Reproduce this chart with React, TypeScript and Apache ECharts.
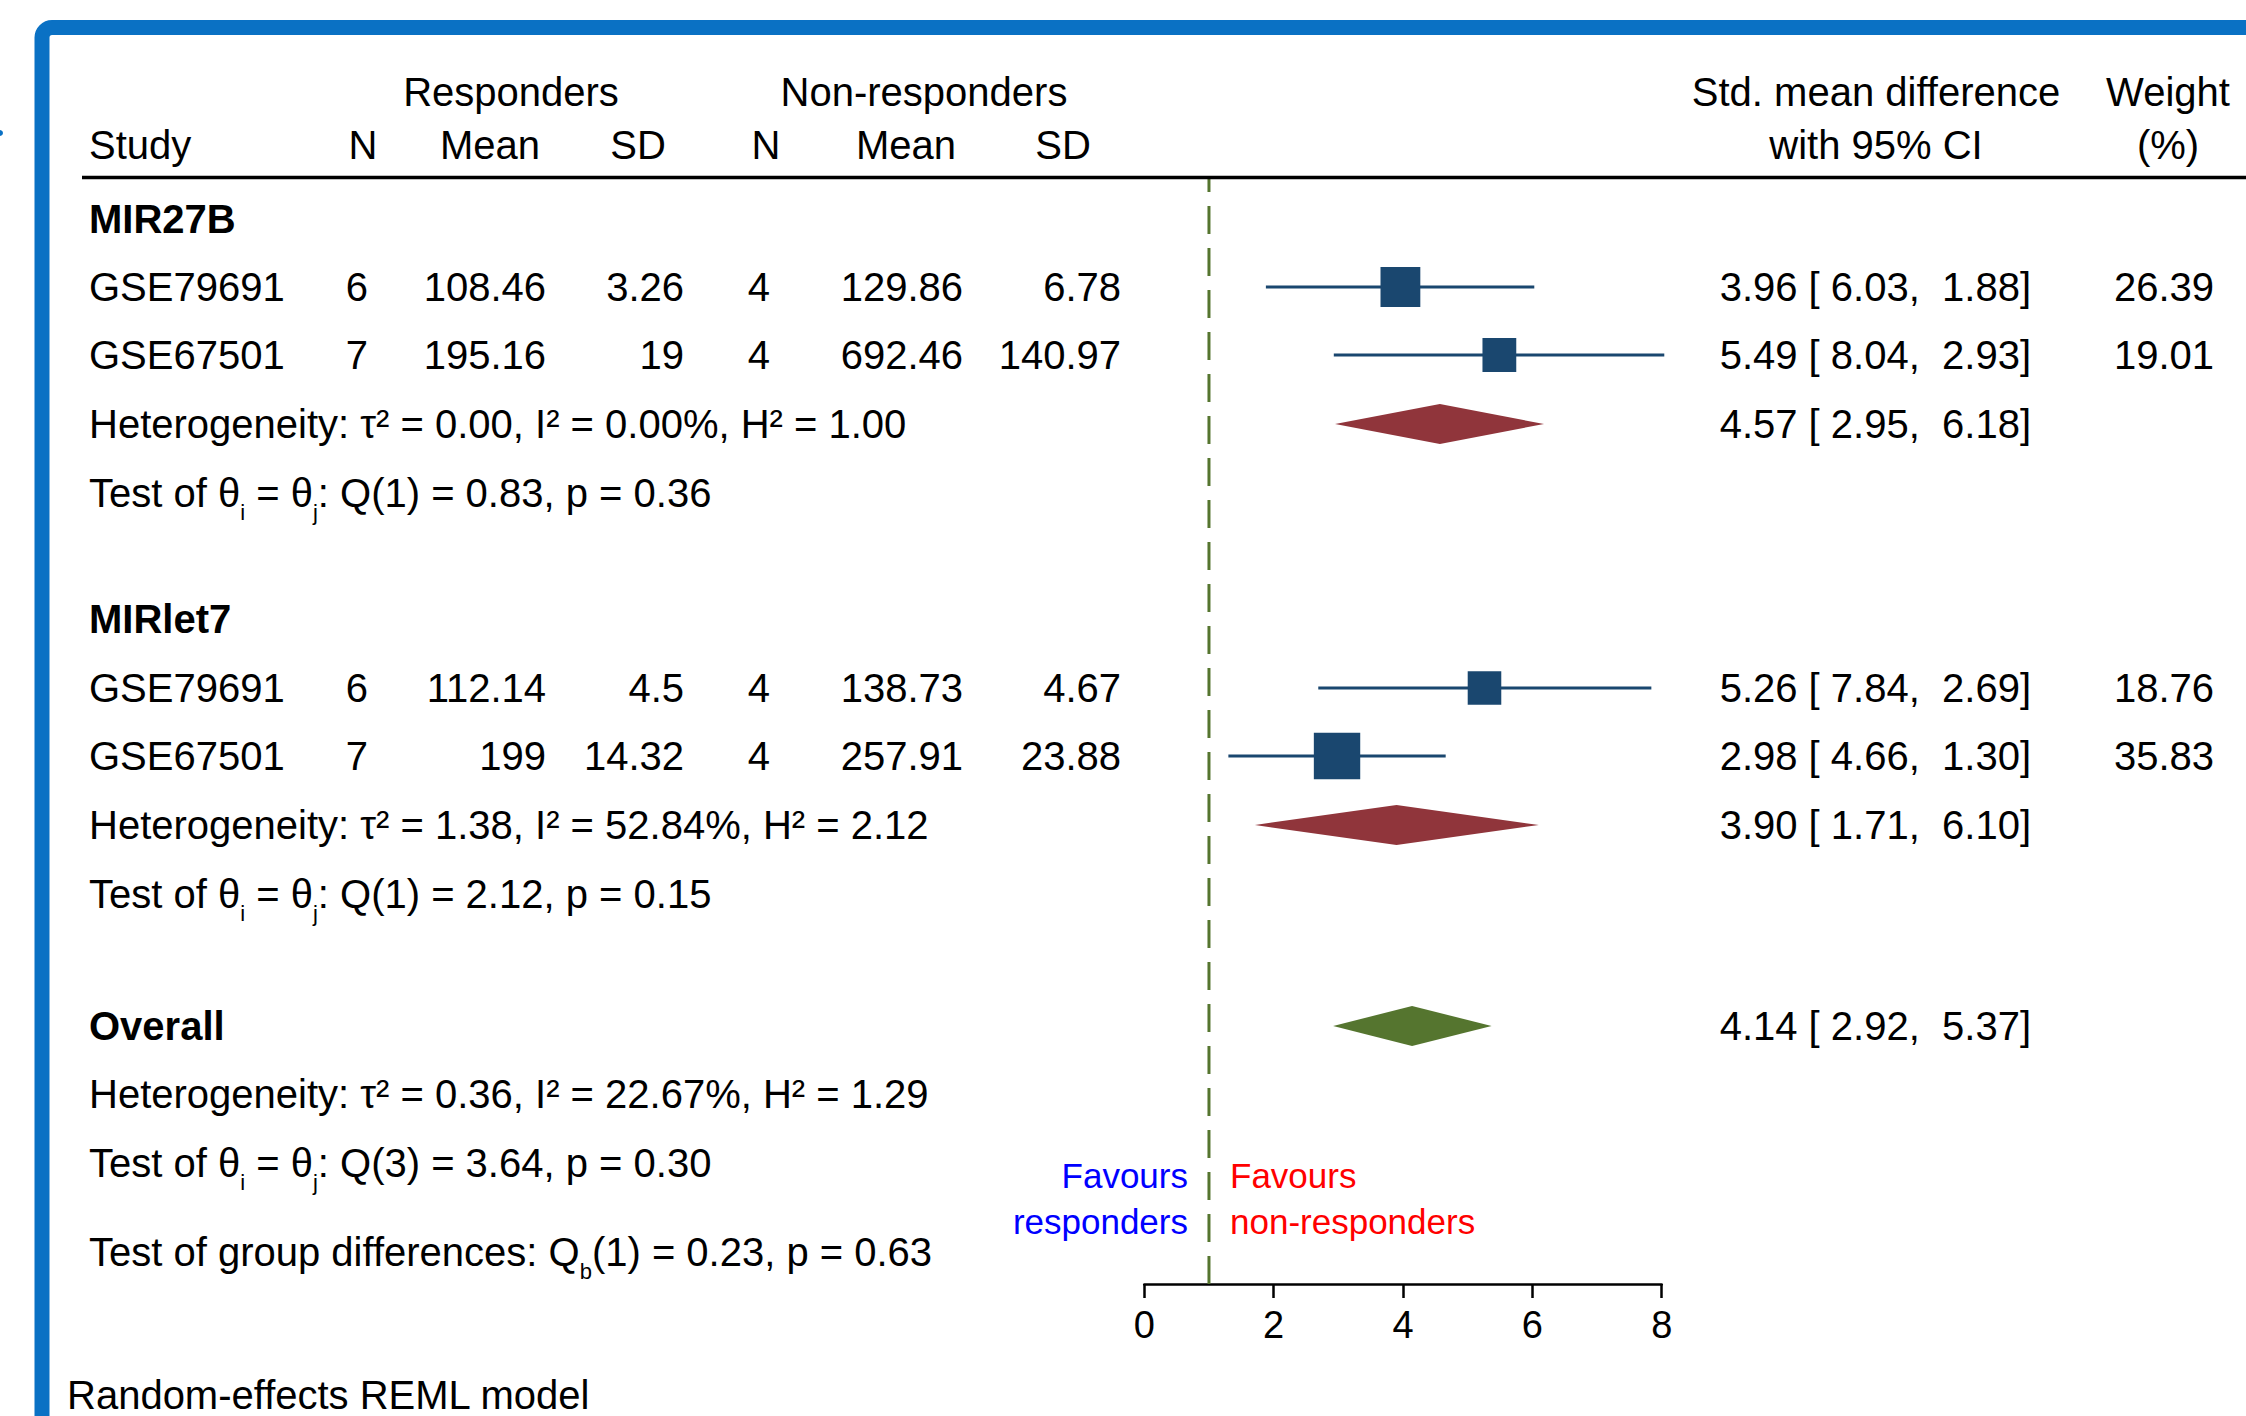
import React, { useEffect, useRef } from 'react';
import * as echarts from 'echarts';

// ---------------- data ----------------
const groupNames = ['MIR27B', 'MIRlet7'];
const overallName = 'Overall';
const studyNames = ['GSE79691', 'GSE67501', 'GSE79691', 'GSE67501'];
const respN = [6, 7, 6, 7];
const respMean = [108.46, 195.16, 112.14, 199];
const respSD = [3.26, 19, 4.5, 14.32];
const nonN = [4, 4, 4, 4];
const nonMean = [129.86, 692.46, 138.73, 257.91];
const nonSD = [6.78, 140.97, 4.67, 23.88];
const smd = [3.96, 5.49, 5.26, 2.98];
const ciLow = [1.88, 2.93, 2.69, 1.3];
const ciHigh = [6.03, 8.04, 7.84, 4.66];
const weights = [26.39, 19.01, 18.76, 35.83];

// subgroup summaries + overall
const sumEst = [4.57, 3.9, 4.14];
const sumLow = [2.95, 1.71, 2.92];
const sumHigh = [6.18, 6.1, 5.37];
const tau2 = [0.0, 1.38, 0.36];
const i2 = [0.0, 52.84, 22.67];
const h2 = [1.0, 2.12, 1.29];
const qDf = [1, 1, 3];
const qVal = [0.83, 2.12, 3.64];
const qP = [0.36, 0.15, 0.3];
const qbDf = 1;
const qbVal = 0.23;
const qbP = 0.63;

const xTicks = [0, 2, 4, 6, 8];
const refLine = 1;

// ---------------- layout ----------------
const FONT = '"Liberation Sans", Arial, Helvetica, sans-serif';
const FS = 40;
const NAVY = '#1A476F';
const MAROON = '#90353B';
const GREEN = '#55752F';

const Y_HEAD1 = 92;
const Y_HEAD2 = 145;
const Y_RULE = 177.5;
const STUDY_Y = [287, 355, 688, 756];
const TITLE_Y = [219, 619, 1026];
const SUMMARY_Y = [424, 825, 1026];
const HET_Y = [424, 825, 1094];
const TEST_Y = [493, 894, 1163];
const GDIFF_Y = 1252;
const REML_Y = 1395;

const GRID_LEFT = 1144.3;
const GRID_RIGHT_X = 1661.7;
const GRID_TOP = 179;
const GRID_BOTTOM_Y = 1284;

const X_STUDY = 89;
const X_COLS = [368, 546, 684, 770, 963, 1121];
const X_HEAD_COLS = [363, 490, 638, 766, 906, 1063];
const X_RESP = 511;
const X_NONRESP = 924;
const X_CI_HEAD = 1876;
const X_W_HEAD = 2168;
const X_CI = 2031;
const X_W = 2214;

const f2 = (v: number) => v.toFixed(2);
const NB = '\u00a0';

type TOpt = { size?: number; bold?: boolean; fill?: string; align?: string; rich?: any };
const T = (text: string, x: number, y: number, o: TOpt = {}) => ({
  type: 'text',
  x,
  y,
  z: 10,
  silent: true,
  style: {
    text,
    fill: o.fill || '#000',
    fontSize: o.size || FS,
    fontFamily: FONT,
    fontWeight: o.bold ? 'bold' : 'normal',
    align: o.align || 'left',
    verticalAlign: 'middle',
    rich: o.rich,
  },
});

const SUB_RICH = {
  s: { fontSize: 22, fontFamily: FONT, fill: '#000', padding: [38, 0, 0, 0] },
};

function buildGraphics() {
  const g: any[] = [];
  // blue frame
  g.push({
    type: 'rect',
    z: 1,
    silent: true,
    shape: { x: 42, y: 27.5, width: 2400, height: 1700, r: 10 },
    style: { fill: 'none', stroke: '#0A71C4', lineWidth: 15 },
  });
  g.push({ type: 'circle', z: 1, silent: true, shape: { cx: 0, cy: 133, r: 3 }, style: { fill: '#0A71C4' } });
  // header
  g.push(T('Responders', X_RESP, Y_HEAD1, { align: 'center' }));
  g.push(T('Non-responders', X_NONRESP, Y_HEAD1, { align: 'center' }));
  g.push(T('Std. mean difference', X_CI_HEAD, Y_HEAD1, { align: 'center' }));
  g.push(T('Weight', X_W_HEAD, Y_HEAD1, { align: 'center' }));
  g.push(T('Study', X_STUDY, Y_HEAD2));
  ['N', 'Mean', 'SD', 'N', 'Mean', 'SD'].forEach((h, i) =>
    g.push(T(h, X_HEAD_COLS[i], Y_HEAD2, { align: 'center' }))
  );
  g.push(T('with 95% CI', X_CI_HEAD, Y_HEAD2, { align: 'center' }));
  g.push(T('(%)', X_W_HEAD, Y_HEAD2, { align: 'center' }));
  g.push({
    type: 'line',
    z: 5,
    silent: true,
    shape: { x1: 82, y1: Y_RULE, x2: 2300, y2: Y_RULE },
    style: { stroke: '#000', lineWidth: 3.5 },
  });

  // group titles
  groupNames.forEach((n, i) => g.push(T(n, X_STUDY, TITLE_Y[i], { bold: true })));
  g.push(T(overallName, X_STUDY, TITLE_Y[2], { bold: true }));

  // study rows
  studyNames.forEach((n, i) => {
    const y = STUDY_Y[i];
    g.push(T(n, X_STUDY, y));
    const vals = [respN[i], respMean[i], respSD[i], nonN[i], nonMean[i], nonSD[i]].map((v) => String(v));
    vals.forEach((v, k) => g.push(T(v, X_COLS[k], y, { align: 'right' })));
    g.push(T(`${f2(smd[i])} [${NB}${f2(ciHigh[i])},${NB}${NB}${f2(ciLow[i])}]`, X_CI, y, { align: 'right' }));
    g.push(T(f2(weights[i]), X_W, y, { align: 'right' }));
  });

  // summaries
  sumEst.forEach((e, i) => {
    g.push(T(`${f2(e)} [${NB}${f2(sumLow[i])},${NB}${NB}${f2(sumHigh[i])}]`, X_CI, SUMMARY_Y[i], { align: 'right' }));
    g.push(
      T(`Heterogeneity: \u03c4\u00b2 = ${f2(tau2[i])}, I\u00b2 = ${f2(i2[i])}%, H\u00b2 = ${f2(h2[i])}`, X_STUDY, HET_Y[i])
    );
    g.push(
      T(
        `Test of \u03b8{s|i} = \u03b8{s|j}: Q(${qDf[i]}) = ${f2(qVal[i])}, p = ${f2(qP[i])}`,
        X_STUDY,
        TEST_Y[i],
        { rich: SUB_RICH }
      )
    );
  });
  g.push(
    T(`Test of group differences: Q{s|b}(${qbDf}) = ${f2(qbVal)}, p = ${f2(qbP)}`, X_STUDY, GDIFF_Y, {
      rich: SUB_RICH,
    })
  );

  // favours
  g.push(T('Favours', 1188, 1175, { size: 35, fill: '#0000FF', align: 'right' }));
  g.push(T('responders', 1188, 1221, { size: 35, fill: '#0000FF', align: 'right' }));
  g.push(T('Favours', 1230, 1175, { size: 35, fill: '#FF0000' }));
  g.push(T('non-responders', 1230, 1221, { size: 35, fill: '#FF0000' }));

  g.push(T('Random-effects REML model', 67, REML_Y));
  return g;
}

function buildOption(): any {
  const ciData = studyNames.map((_, i) => [ciLow[i], ciHigh[i], STUDY_Y[i]]);
  const sqData = studyNames.map((_, i) => [smd[i], STUDY_Y[i], weights[i]]);
  const dColors = [MAROON, MAROON, GREEN];
  const dData = sumEst.map((e, i) => [sumLow[i], e, sumHigh[i], SUMMARY_Y[i], i]);
  return {
    animation: false,
    backgroundColor: '#fff',
    grid: {
      left: GRID_LEFT,
      top: GRID_TOP,
      width: GRID_RIGHT_X - GRID_LEFT,
      height: GRID_BOTTOM_Y - GRID_TOP,
      containLabel: false,
    },
    xAxis: {
      type: 'value',
      min: xTicks[0],
      max: xTicks[xTicks.length - 1],
      interval: xTicks[1] - xTicks[0],
      position: 'bottom',
      axisLine: { show: true, onZero: false, lineStyle: { color: '#000', width: 2.5 } },
      axisTick: { show: true, length: 14, lineStyle: { color: '#000', width: 2.5 } },
      axisLabel: { fontSize: 38, color: '#000', fontFamily: FONT, margin: 22 },
      splitLine: { show: false },
    },
    yAxis: {
      type: 'value',
      inverse: true,
      min: GRID_TOP,
      max: GRID_BOTTOM_Y,
      show: false,
      splitLine: { show: false },
    },
    graphic: { elements: buildGraphics() },
    series: [
      {
        type: 'line',
        data: [
          [refLine, GRID_BOTTOM_Y],
          [refLine, GRID_TOP],
        ],
        symbol: 'none',
        silent: true,
        lineStyle: { color: GREEN, width: 3, type: [28, 14] },
        z: 1,
      },
      {
        type: 'custom',
        data: ciData,
        encode: { x: [0, 1], y: 2 },
        silent: true,
        z: 3,
        renderItem: (params: any, api: any) => {
          const p1 = api.coord([api.value(0), api.value(2)]);
          const p2 = api.coord([api.value(1), api.value(2)]);
          return {
            type: 'line',
            shape: { x1: p1[0], y1: p1[1], x2: p2[0], y2: p2[1] },
            style: { stroke: NAVY, lineWidth: 3 },
          };
        },
      },
      {
        type: 'scatter',
        data: sqData,
        symbol: 'rect',
        symbolSize: (v: number[]) => 7.75 * Math.sqrt(v[2]),
        itemStyle: { color: NAVY, opacity: 1 },
        silent: true,
        z: 4,
      },
      {
        type: 'custom',
        data: dData,
        encode: { x: [0, 1, 2], y: 3 },
        silent: true,
        z: 4,
        renderItem: (params: any, api: any) => {
          const y = api.value(3);
          const l = api.coord([api.value(0), y]);
          const c = api.coord([api.value(1), y]);
          const r = api.coord([api.value(2), y]);
          const h = 20;
          return {
            type: 'polygon',
            shape: { points: [l, [c[0], c[1] - h], r, [c[0], c[1] + h]] },
            style: { fill: dColors[api.value(4)] },
          };
        },
      },
    ],
  };
}

export default function App() {
  const ref = useRef<HTMLDivElement>(null);
  useEffect(() => {
    document.body.style.margin = '0';
    const chart = echarts.init(ref.current!, null, { renderer: 'svg' });
    chart.setOption(buildOption());
    return () => chart.dispose();
  }, []);
  return <div ref={ref} style={{ width: 2246, height: 1416, background: '#fff' }} />;
}
